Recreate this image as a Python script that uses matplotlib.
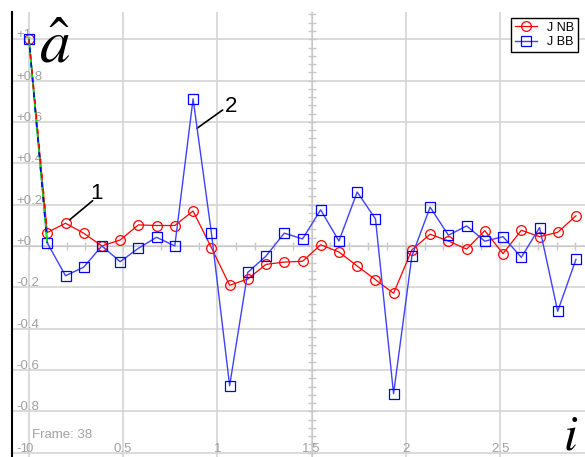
import matplotlib
matplotlib.use("Agg")
import matplotlib.pyplot as plt
from matplotlib.ticker import MultipleLocator
from matplotlib.lines import Line2D

plt.rcParams["font.family"] = ["Liberation Sans", "DejaVu Sans"]
plt.rcParams["mathtext.fontset"] = "stix"

# data
x = [0.0, 0.097, 0.194, 0.29, 0.387, 0.484, 0.581, 0.677, 0.774, 0.871,
     0.968, 1.065, 1.161, 1.258, 1.355, 1.452, 1.548, 1.645, 1.742, 1.839,
     1.935, 2.032, 2.129, 2.226, 2.323, 2.419, 2.516, 2.613, 2.71, 2.806, 2.903]
j_nb = [1.0, 0.065, 0.11, 0.062, 0.0, 0.029, 0.102, 0.099, 0.099, 0.169,
        -0.008, -0.19, -0.16, -0.089, -0.078, -0.074, 0.006, -0.029, -0.097, -0.163,
        -0.229, -0.019, 0.057, 0.024, -0.015, 0.074, -0.037, 0.076, 0.045, 0.066, 0.146]
j_bb = [1.0, 0.015, -0.144, -0.103, 0.0, -0.076, -0.011, 0.042, 0.0, 0.712,
        0.065, -0.676, -0.128, -0.049, 0.062, 0.034, 0.175, 0.024, 0.261, 0.131,
        -0.715, -0.05, 0.188, 0.052, 0.097, 0.023, 0.045, -0.055, 0.089, -0.316, -0.065]

y_ticks = [1, 0.8, 0.6, 0.4, 0.2, 0, -0.2, -0.4, -0.6, -0.8, -1]
y_labels = ["+1", "+0.8", "+0.6", "+0.4", "+0.2", "+0", "-0.2", "-0.4", "-0.6", "-0.8", "-1"]
x_ticks = [0, 0.5, 1, 1.5, 2, 2.5]
x_labels = ["0", "0.5", "1", "1.5", "2", "2.5"]

W, H = 585, 457
fig = plt.figure(figsize=(W / 100, H / 100), dpi=100)
ax = fig.add_axes([12 / W, 0, 1 - 12 / W, 1 - 12 / H])
ax.set_xlim(-0.090, 2.951)
ax.set_ylim(-1.021, 1.132)

gray = "#c8c8c8"
for s in ["top", "right"]:
    ax.spines[s].set_visible(False)
ax.spines["left"].set_position(("data", 1.5))
ax.spines["bottom"].set_position(("data", 0))
ax.spines["left"].set_color(gray)
ax.spines["bottom"].set_color(gray)
ax.xaxis.set_major_locator(MultipleLocator(0.5))
ax.xaxis.set_minor_locator(MultipleLocator(0.1))
ax.yaxis.set_major_locator(MultipleLocator(0.2))
ax.yaxis.set_minor_locator(MultipleLocator(0.04))
ax.tick_params(which="both", direction="inout", length=6, width=1, color=gray,
               labelbottom=False, labelleft=False)
ax.grid(True, color="#d4d4d4", lw=1.2)
ax.set_axisbelow(True)

# tick labels drawn inside the plot
for v, lab in zip(y_ticks, y_labels):
    ax.text(-0.069, v + 0.004, lab, color="#a0a0a0", fontsize=9.5, ha="left", va="baseline")
for v, lab in zip(x_ticks, x_labels):
    ax.text(v, -0.996, lab, color="#a0a0a0", fontsize=9.5, ha="center", va="baseline")

ax.plot(x, j_nb, color="red", lw=0.9, marker="o", ms=7, mfc="none", mec="red",
        mew=0.9, label="J NB", zorder=3)
ax.plot(x, j_bb, color="#4040ff", lw=1.0, marker="s", ms=7, mfc="none", mec="blue",
        mew=0.9, label="J BB", zorder=4)

# first segment: mixed colours
ax.plot(x[:2], j_bb[:2], color="#00e000", lw=1.2, zorder=5)
ax.plot(x[:2], j_nb[:2], color="red", lw=1.2, ls=(0, (3, 6)), zorder=6)
ax.plot(x[:2], j_bb[:2], color="blue", lw=1.2, ls=(4, (3, 6)), zorder=6)

leg = ax.legend(loc="upper left", bbox_to_anchor=(511 / W, 1 - 18 / H),
                bbox_transform=fig.transFigure, fancybox=False, edgecolor="black",
                framealpha=1, borderaxespad=0, fontsize=9, handlelength=1.8,
                borderpad=0.3, labelspacing=0.2, handletextpad=0.8)
leg.get_frame().set_linewidth(1.0)

# numbered callouts
ax.annotate("", xy=(x[2], j_nb[2]), xytext=(0.338, 0.219),
            arrowprops=dict(arrowstyle="-", color="black", lw=1.2, shrinkA=0, shrinkB=4))
ax.text(0.356, 0.256, "1", fontsize=16, ha="center", va="center")
t = 0.22
ax.annotate("", xy=(x[9] + t * (x[10] - x[9]), j_bb[9] + t * (j_bb[10] - j_bb[9])),
            xytext=(1.028, 0.658),
            arrowprops=dict(arrowstyle="-", color="black", lw=1.2, shrinkA=0, shrinkB=0))
ax.text(1.075, 0.675, "2", fontsize=16, ha="center", va="center")

ax.text(0.138, 0.89, r"$\hat{a}$", fontsize=44, ha="center", va="baseline")
ax.text(2.877, -0.987, r"$i$", fontsize=36, ha="center", va="baseline")
ax.text(0.014, -0.929, "Frame: 38", color="#a0a0a0", fontsize=9.5, ha="left", va="baseline")

fig.add_artist(Line2D([12 / W, 12 / W], [0, 1 - 12 / H], color="black", lw=1.5))

fig.savefig("out.png", dpi=100)
